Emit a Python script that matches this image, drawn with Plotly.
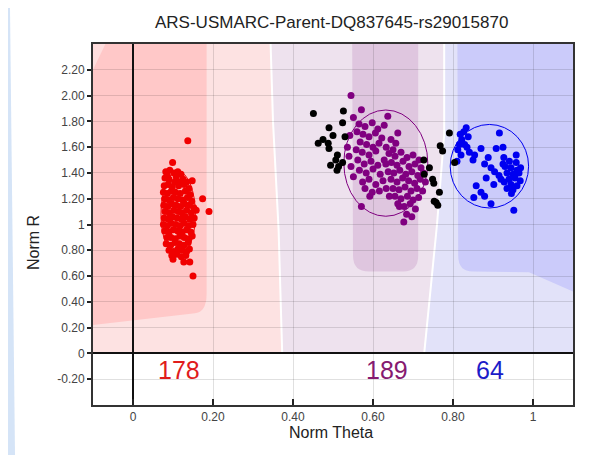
import plotly.graph_objects as go

# ---------------- data ----------------
title_text = "ARS-USMARC-Parent-DQ837645-rs29015870"
x_title = "Norm Theta"
y_title = "Norm R"

x_tick_vals = [0, 0.2, 0.4, 0.6, 0.8, 1.0]
x_tick_text = ["0", "0.20", "0.40", "0.60", "0.80", "1"]
y_tick_vals = [2.2, 2.0, 1.8, 1.6, 1.4, 1.2, 1.0, 0.8, 0.6, 0.4, 0.2, 0.0, -0.2]
y_tick_text = ["2.20", "2.00", "1.80", "1.60", "1.40", "1.20", "1", "0.80", "0.60", "0.40", "0.20", "0", "-0.20"]

red_points = [
    (0.137, 1.65), (0.099, 1.48), (0.148, 1.34), (0.174, 1.20), (0.190, 1.10),
    (0.100, 0.73), (0.127, 0.71), (0.142, 0.71), (0.150, 0.60), (0.085, 0.90),
    (0.082, 1.41), (0.092, 1.42), (0.103, 1.40), (0.112, 1.41), (0.120, 1.39),
    (0.080, 1.36), (0.090, 1.35), (0.108, 1.37), (0.125, 1.35), (0.134, 1.33),
    (0.078, 1.30), (0.088, 1.31), (0.098, 1.29), (0.114, 1.30), (0.128, 1.31), (0.140, 1.28),
    (0.076, 1.25), (0.086, 1.24), (0.096, 1.26), (0.106, 1.25), (0.118, 1.24), (0.131, 1.26), (0.143, 1.23),
    (0.079, 1.20), (0.090, 1.19), (0.101, 1.21), (0.112, 1.20), (0.124, 1.19), (0.136, 1.21), (0.147, 1.18),
    (0.077, 1.15), (0.087, 1.14), (0.097, 1.16), (0.108, 1.15), (0.119, 1.14), (0.129, 1.16), (0.141, 1.15), (0.152, 1.13),
    (0.080, 1.10), (0.091, 1.09), (0.102, 1.11), (0.113, 1.10), (0.123, 1.09), (0.134, 1.11), (0.146, 1.09), (0.158, 1.11),
    (0.078, 1.05), (0.088, 1.04), (0.099, 1.06), (0.110, 1.05), (0.121, 1.04), (0.131, 1.06), (0.142, 1.04), (0.153, 1.05),
    (0.076, 1.00), (0.086, 0.99), (0.096, 1.01), (0.107, 1.00), (0.118, 0.99), (0.128, 1.01), (0.139, 0.99), (0.150, 1.00),
    (0.079, 0.95), (0.090, 0.94), (0.101, 0.96), (0.112, 0.95), (0.123, 0.94), (0.134, 0.96), (0.145, 0.94),
    (0.095, 0.90), (0.106, 0.89), (0.117, 0.91), (0.128, 0.90), (0.139, 0.89), (0.148, 0.91),
    (0.083, 0.85), (0.094, 0.84), (0.105, 0.86), (0.116, 0.85), (0.127, 0.84), (0.138, 0.86),
    (0.090, 0.80), (0.101, 0.79), (0.112, 0.81), (0.123, 0.80), (0.134, 0.79), (0.141, 0.81),
    (0.097, 0.76), (0.110, 0.77), (0.121, 0.75), (0.132, 0.76),
    (0.086, 1.38), (0.117, 1.33), (0.104, 1.33),
]

purple_points = [
    (0.545, 2.00), (0.571, 1.89), (0.551, 1.83), (0.637, 1.84), (0.662, 1.71), (0.657, 1.63),
    (0.542, 1.69), (0.536, 1.60), (0.540, 1.53), (0.545, 1.45), (0.551, 1.37), (0.592, 1.22),
    (0.571, 1.14), (0.677, 1.02), (0.666, 1.14), (0.616, 1.26), (0.641, 1.22),
    (0.565, 1.78), (0.580, 1.76), (0.598, 1.79), (0.612, 1.74), (0.628, 1.77),
    (0.560, 1.72), (0.575, 1.70), (0.590, 1.68), (0.606, 1.71), (0.622, 1.67),
    (0.568, 1.64), (0.584, 1.62), (0.600, 1.60), (0.615, 1.63), (0.633, 1.60),
    (0.558, 1.58), (0.573, 1.56), (0.590, 1.54), (0.607, 1.57), (0.645, 1.66), (0.650, 1.58),
    (0.562, 1.50), (0.578, 1.47), (0.595, 1.49), (0.612, 1.46), (0.628, 1.50),
    (0.566, 1.42), (0.583, 1.40), (0.600, 1.43), (0.618, 1.39),
    (0.574, 1.33), (0.590, 1.35), (0.607, 1.31), (0.625, 1.34),
    (0.580, 1.28), (0.598, 1.25), (0.633, 1.28),
    (0.640, 1.55), (0.655, 1.53), (0.670, 1.56), (0.685, 1.52), (0.700, 1.54), (0.715, 1.50),
    (0.632, 1.47), (0.646, 1.48), (0.660, 1.46), (0.675, 1.49), (0.690, 1.45), (0.705, 1.47), (0.720, 1.44),
    (0.638, 1.41), (0.652, 1.40), (0.667, 1.42), (0.682, 1.39), (0.697, 1.41), (0.712, 1.38), (0.726, 1.40),
    (0.645, 1.35), (0.660, 1.33), (0.674, 1.36), (0.689, 1.34), (0.704, 1.32), (0.718, 1.35), (0.731, 1.33),
    (0.650, 1.28), (0.665, 1.27), (0.680, 1.29), (0.695, 1.26), (0.710, 1.28), (0.724, 1.26),
    (0.655, 1.22), (0.670, 1.20), (0.686, 1.22), (0.700, 1.19), (0.714, 1.21),
    (0.662, 1.16), (0.678, 1.14), (0.693, 1.16), (0.706, 1.12),
    (0.684, 1.08), (0.697, 1.06),
]

blue_points = [
    (0.833, 1.75), (0.827, 1.72), (0.822, 1.66), (0.816, 1.62), (0.829, 1.62), (0.812, 1.58),
    (0.835, 1.60), (0.820, 1.54), (0.810, 1.49), (0.841, 1.56), (0.854, 1.54), (0.850, 1.50),
    (0.870, 1.59), (0.916, 1.71), (0.908, 1.59), (0.925, 1.60), (0.879, 1.47), (0.895, 1.44),
    (0.904, 1.41), (0.927, 1.52), (0.941, 1.49), (0.958, 1.54), (0.958, 1.48),
    (0.930, 1.45), (0.945, 1.44), (0.960, 1.42), (0.935, 1.40), (0.950, 1.39), (0.965, 1.40),
    (0.940, 1.35), (0.955, 1.36), (0.968, 1.34), (0.928, 1.33), (0.945, 1.31), (0.960, 1.30),
    (0.950, 1.27), (0.935, 1.28), (0.915, 1.38), (0.920, 1.35), (0.969, 1.44),
    (0.946, 1.24), (0.883, 1.36), (0.858, 1.30), (0.902, 1.31), (0.870, 1.25), (0.879, 1.22),
    (0.852, 1.21), (0.895, 1.16), (0.952, 1.11), (0.925, 1.47), (0.888, 1.52), (0.818, 1.70),
    (0.838, 1.68),
]

nocall_points = [
    (0.451, 1.86), (0.526, 1.88), (0.524, 1.79), (0.490, 1.75), (0.500, 1.69), (0.530, 1.68),
    (0.475, 1.66), (0.463, 1.63), (0.488, 1.63), (0.490, 1.59), (0.511, 1.54), (0.507, 1.50),
    (0.494, 1.46), (0.514, 1.45), (0.524, 1.48), (0.510, 1.42),
    (0.791, 1.71), (0.768, 1.61), (0.774, 1.57), (0.727, 1.50), (0.741, 1.44), (0.728, 1.39),
    (0.749, 1.35), (0.752, 1.32), (0.766, 1.25), (0.753, 1.18), (0.762, 1.15), (0.804, 1.48),
    (0.758, 1.17),
]

cluster_theta = [0.113, 0.632, 0.891]
cluster_r = [1.08, 1.476, 1.452]
cluster_half_theta = [0.043, 0.105, 0.098]
cluster_half_r = [0.33, 0.412, 0.324]
cluster_counts = [178, 189, 64]

# call regions (theta, R)
red_zone = [(-0.1, 0), (-0.1, 2.4), (0.344, 2.4), (0.350, 1.8), (0.364, 0.96), (0.373, 0)]
purple_zone = [(0.344, 2.4), (0.778, 2.4), (0.778, 1.7), (0.760, 1.0), (0.728, 0), (0.373, 0),
               (0.364, 0.96), (0.350, 1.8)]
blue_zone = [(0.778, 2.4), (1.1, 2.4), (1.1, 0), (0.728, 0), (0.760, 1.0), (0.778, 1.7)]
red_purple_border = [(0.344, 2.4), (0.350, 1.8), (0.364, 0.96), (0.373, 0)]
purple_blue_border = [(0.778, 2.4), (0.778, 1.7), (0.760, 1.0), (0.728, 0)]
red_corner = [(-0.1, 2.4), (-0.069, 2.4), (-0.1, 2.2)]
red_core = [("M", -0.1, 2.4), ("L", 0.184, 2.4), ("L", 0.184, 0.46), ("Q", 0.184, 0.31, 0.150, 0.31),
            ("L", -0.1, 0.22)]
purple_core = [("M", 0.548, 2.4), ("L", 0.713, 2.4), ("L", 0.713, 0.76), ("Q", 0.713, 0.635, 0.675, 0.635),
               ("L", 0.590, 0.635), ("Q", 0.550, 0.635, 0.550, 0.76)]
blue_core = [("M", 0.811, 2.4), ("L", 1.1, 2.4), ("L", 1.1, 0.48), ("L", 0.99, 0.63), ("L", 0.85, 0.635),
             ("Q", 0.813, 0.635, 0.813, 0.76)]

# ---------------- styles ----------------
FONT = "Liberation Sans, Arial, sans-serif"
dot_colors = ["#f00000", "#800080", "#0000f0"]
count_colors = ["#e01c1c", "#861a70", "#1c1cc8"]
zone_colors = ["#fde2e2", "#eee2ee", "#e2e2f9"]
core_colors = ["#ffc8c8", "#dfc6df", "#cbcbfa"]


def poly_path(pts, close=True):
    s = "M " + " L ".join(f"{x},{y}" for x, y in pts)
    return s + (" Z" if close else "")


def seg_path(segs):
    parts = []
    for seg in segs:
        cmd, vals = seg[0], seg[1:]
        coords = " ".join(f"{vals[i]},{vals[i + 1]}" for i in range(0, len(vals), 2))
        parts.append(f"{cmd} {coords}")
    return " ".join(parts) + " Z"


fig = go.Figure()

groups = [red_points, purple_points, blue_points]
for pts, col in zip(groups, dot_colors):
    fig.add_trace(go.Scatter(x=[p[0] for p in pts], y=[p[1] for p in pts], mode="markers",
                             marker=dict(size=7, color=col, line=dict(width=0)),
                             showlegend=False, hoverinfo="x+y"))
fig.add_trace(go.Scatter(x=[p[0] for p in nocall_points], y=[p[1] for p in nocall_points], mode="markers",
                         marker=dict(size=7, color="#000000", line=dict(width=0)),
                         showlegend=False, hoverinfo="x+y"))

# page geometry (the page body adds an 8 px offset)
OFF = 8
W, H = 597 - OFF, 455 - OFF
PLOT_L, PLOT_R, PLOT_T, PLOT_B = 93, 573, 44, 405   # page pixels of the plotting area
L, R, T, B = PLOT_L - OFF, W - (PLOT_R - OFF), PLOT_T - OFF, H - (PLOT_B - OFF)
pw, ph = PLOT_R - PLOT_L, PLOT_B - PLOT_T


def px(xp):
    return (xp - PLOT_L) / pw


def py(yp):
    return (PLOT_B - yp) / ph


shapes = []
# light-blue window edge on the left
shapes.append(dict(type="path", xref="paper", yref="paper", layer="below",
                   path=f"M {px(8)},{py(8)} L {px(10)},{py(8)} L {px(15)},{py(455)} L {px(8)},{py(455)} Z",
                   fillcolor="#d5e4f7", line=dict(width=0)))

for zone, col in zip([red_zone, purple_zone, blue_zone], zone_colors):
    shapes.append(dict(type="path", xref="x", yref="y", layer="below", path=poly_path(zone),
                       fillcolor=col, line=dict(width=0)))
for core, col in zip([red_core, purple_core, blue_core], core_colors):
    shapes.append(dict(type="path", xref="x", yref="y", layer="below", path=seg_path(core),
                       fillcolor=col, line=dict(width=0)))
shapes.append(dict(type="path", xref="x", yref="y", layer="below", path=poly_path(red_corner),
                   fillcolor="#ffdede", line=dict(width=0)))
for border in [red_purple_border, purple_blue_border]:
    shapes.append(dict(type="path", xref="x", yref="y", layer="below", path=poly_path(border, close=False),
                       line=dict(color="white", width=2)))

for cx, cy, hx, hy, col in zip(cluster_theta, cluster_r, cluster_half_theta, cluster_half_r, dot_colors):
    shapes.append(dict(type="circle", xref="x", yref="y", layer="between",
                       x0=cx - hx, x1=cx + hx, y0=cy - hy, y1=cy + hy,
                       line=dict(color=col, width=1)))

annotations = [
    dict(text=title_text, xref="paper", yref="paper", x=px(331), y=py(23), showarrow=False,
         xanchor="center", yanchor="middle", font=dict(family=FONT, size=17, color="#222222")),
    dict(text=x_title, xref="paper", yref="paper", x=px(331), y=py(432), showarrow=False,
         xanchor="center", yanchor="middle", font=dict(family=FONT, size=16, color="#222222")),
    dict(text=y_title, xref="paper", yref="paper", x=px(33), y=py(243), showarrow=False, textangle=-90,
         xanchor="center", yanchor="middle", font=dict(family=FONT, size=16, color="#222222")),
]
for cx, n, col in zip(cluster_theta, cluster_counts, count_colors):
    annotations.append(dict(text=str(n), xref="x", yref="y", x=cx + 0.002, y=-0.125, showarrow=False,
                            xanchor="center", yanchor="middle",
                            font=dict(family=FONT, size=25, color=col)))

fig.update_layout(
    width=W, height=H,
    margin=dict(l=L, r=R, t=T, b=B, pad=0),
    paper_bgcolor="white",
    plot_bgcolor="white",
    shapes=shapes,
    annotations=annotations,
    showlegend=False,
    font=dict(family=FONT, size=12, color="#333333"),
)
fig.update_xaxes(range=[-0.1, 1.1], tickvals=x_tick_vals, ticktext=x_tick_text,
                 ticks="inside", ticklen=6, tickwidth=1.5, tickcolor="#222222",
                 showgrid=True, gridcolor="rgba(0,0,0,0.12)", gridwidth=1,
                 zeroline=True, zerolinecolor="#111111", zerolinewidth=2,
                 showline=True, linecolor="#333333", linewidth=2, mirror=True,
                 tickfont=dict(family=FONT, size=12, color="#444444"), fixedrange=True)
fig.update_yaxes(range=[-0.4, 2.4], tickvals=y_tick_vals, ticktext=y_tick_text,
                 ticks="outside", ticklen=4, tickwidth=1.5, tickcolor="#222222",
                 showgrid=True, gridcolor="rgba(0,0,0,0.12)", gridwidth=1,
                 zeroline=True, zerolinecolor="#111111", zerolinewidth=2,
                 showline=True, linecolor="#333333", linewidth=2, mirror=True,
                 tickfont=dict(family=FONT, size=12, color="#444444"), fixedrange=True)

fig.write_html("out.html")
